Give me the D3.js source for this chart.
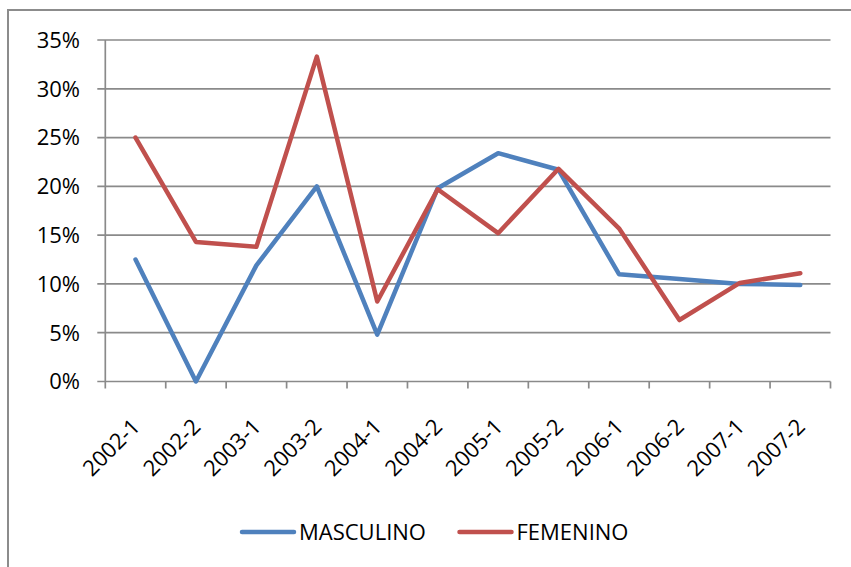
<!DOCTYPE html>
<html><head><meta charset="utf-8">
<script src="https://cdn.jsdelivr.net/npm/d3@7"></script>
<style>body{margin:0;background:#fff}svg{display:block}</style>
</head><body>
<svg id="c" width="851" height="567"></svg>
<script>
const categories = ["2002-1","2002-2","2003-1","2003-2","2004-1","2004-2","2005-1","2005-2","2006-1","2006-2","2007-1","2007-2"];
const masculino = [12.5, 0, 11.9, 20.0, 4.8, 19.8, 23.4, 21.7, 11.0, 10.5, 10.0, 9.9];
const femenino  = [25.0, 14.3, 13.8, 33.3, 8.2, 19.7, 15.2, 21.8, 15.7, 6.3, 10.1, 11.1];
const yTicks = [0, 5, 10, 15, 20, 25, 30, 35];
const seriesNames = ["MASCULINO", "FEMENINO"];
const seriesColors = ["#4F81BD", "#C0504D"];

const svg = d3.select("#c");
const font = "'Open Sans', sans-serif";
const fs = 22;
const pL = 105.3, pR = 830.5, pT = 40, pB = 381.5;

// outer frame
svg.append("path").attr("d", `M8,567 L8,10 L851,10`).attr("fill","none")
  .attr("stroke","#8c8c8c").attr("stroke-width",2);

const x = d3.scaleBand().domain(categories).range([pL, pR]);
const y = d3.scaleLinear().domain([0, 35]).range([pB, pT]);

// gridlines
const gy = svg.append("g");
gy.selectAll("line").data(yTicks).join("line")
  .attr("x1", pL - 8).attr("x2", pR)
  .attr("y1", d => y(d)).attr("y2", d => y(d))
  .attr("stroke", "#8a8a8a").attr("stroke-width", 1.7);
gy.selectAll("text").data(yTicks).join("text")
  .attr("x", 80).attr("y", d => y(d)).attr("dy", "0.36em")
  .attr("text-anchor", "end").attr("font-family", font).attr("font-size", fs)
  .attr("fill", "#000").text(d => d + "%");

// y axis line
svg.append("line").attr("x1", pL).attr("x2", pL).attr("y1", pT).attr("y2", pB)
  .attr("stroke", "#8a8a8a").attr("stroke-width", 1.7);

// x ticks
const xt = categories.map(c => x(c)).concat([pR]);
svg.append("g").selectAll("line").data(xt).join("line")
  .attr("x1", d => d).attr("x2", d => d).attr("y1", pB).attr("y2", pB + 7)
  .attr("stroke", "#8a8a8a").attr("stroke-width", 1.7);

// x labels
svg.append("g").selectAll("text").data(categories).join("text")
  .attr("transform", d => `translate(${x(d) + x.bandwidth()/2 + 6},${428}) rotate(-45)`)
  .attr("text-anchor", "end").attr("font-family", font).attr("font-size", fs)
  .attr("fill", "#000").text(d => d);

// lines
const line = d3.line().x((d, i) => x(categories[i]) + x.bandwidth()/2).y(d => y(d));
[masculino, femenino].forEach((s, k) => {
  svg.append("path").datum(s).attr("d", line).attr("fill", "none")
    .attr("stroke", seriesColors[k]).attr("stroke-width", 4.5)
    .attr("stroke-linejoin", "round").attr("stroke-linecap", "round");
});

// legend
const legX = [242, 459.5];
seriesNames.forEach((n, k) => {
  const g = svg.append("g");
  g.append("line").attr("x1", legX[k]).attr("x2", legX[k] + 52).attr("y1", 532).attr("y2", 532)
    .attr("stroke", seriesColors[k]).attr("stroke-width", 4.5).attr("stroke-linecap", "round");
  g.append("text").attr("x", legX[k] + 57).attr("y", 540)
    .attr("font-family", font).attr("font-size", fs).attr("fill", "#000").text(n);
});
</script>
</body></html>
